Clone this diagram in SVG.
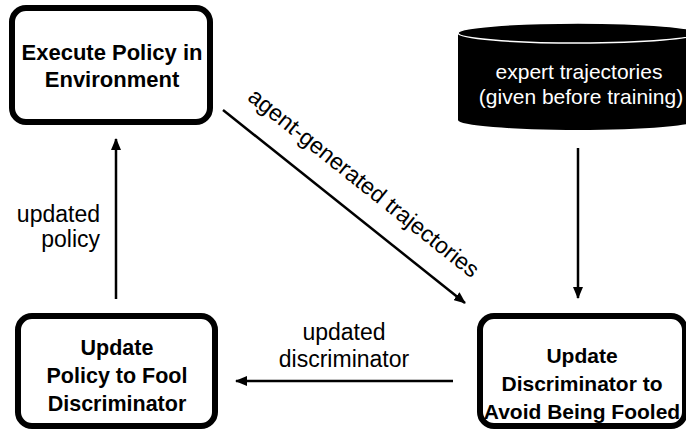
<svg xmlns="http://www.w3.org/2000/svg" width="686" height="432" viewBox="0 0 686 432">
<style>
.box{fill:#fff;stroke:#000;stroke-width:6}
.bt{font-family:"Liberation Sans",Arial,sans-serif;font-size:21.5px;font-weight:bold;fill:#000;text-anchor:middle}
.lt{font-family:"Liberation Sans",Arial,sans-serif;font-size:23px;fill:#000}
.ct{font-family:"Liberation Sans",Arial,sans-serif;font-size:21px;fill:#fff;text-anchor:middle}
.conn{stroke:#000;stroke-width:2.5;fill:none;marker-end:url(#ah)}
</style>
<defs>
<marker id="ah" viewBox="0 0 12 10" refX="11" refY="5" markerWidth="12" markerHeight="10" markerUnits="userSpaceOnUse" orient="auto">
<path d="M0,0 L12,5 L0,10 Z" fill="#000"/>
</marker>
</defs>
<rect width="686" height="432" fill="#fff"/>
<g id="execute">
<rect class="box" x="12" y="8" width="198" height="114" rx="14"/>
<text class="bt" x="112" y="60" style="font-size:22px">Execute Policy in</text>
<text class="bt" x="112" y="87" style="font-size:22px">Environment</text>
</g>
<g id="expert">
<path d="M458,33 L458,120 A120,10 0 0 0 698,120 L698,33 Z" fill="#000"/>
<ellipse cx="578" cy="33" rx="120" ry="10" fill="#000" stroke="#fff" stroke-width="1.5"/>
<text class="ct" x="579" y="79">expert trajectories</text>
<text class="ct" x="581" y="104">(given before training)</text>
</g>
<g id="update-policy">
<rect class="box" x="18" y="316" width="197" height="110" rx="14"/>
<text class="bt" x="117" y="355">Update</text>
<text class="bt" x="117" y="383">Policy to Fool</text>
<text class="bt" x="117" y="411">Discriminator</text>
</g>
<g id="update-disc">
<rect class="box" x="480" y="316" width="205" height="110" rx="14"/>
<text class="bt" x="582" y="363" style="font-size:21px">Update</text>
<text class="bt" x="582" y="391" style="font-size:21px">Discriminator to</text>
<text class="bt" x="582" y="419" style="font-size:21px">Avoid Being Fooled</text>
</g>
<g id="connectors">
<line class="conn" x1="223" y1="110" x2="465" y2="303"/>
<line class="conn" x1="578" y1="148" x2="578" y2="298"/>
<line class="conn" x1="453" y1="381" x2="236" y2="381"/>
<line class="conn" x1="116" y1="299" x2="116" y2="139"/>
<text class="lt" text-anchor="middle" transform="translate(359,189) rotate(38.6)">agent-generated trajectories</text>
<text class="lt" text-anchor="end" x="100" y="222">updated</text>
<text class="lt" text-anchor="end" x="100" y="247">policy</text>
<text class="lt" text-anchor="middle" x="344" y="340">updated</text>
<text class="lt" text-anchor="middle" x="344" y="367">discriminator</text>
</g>
</svg>
